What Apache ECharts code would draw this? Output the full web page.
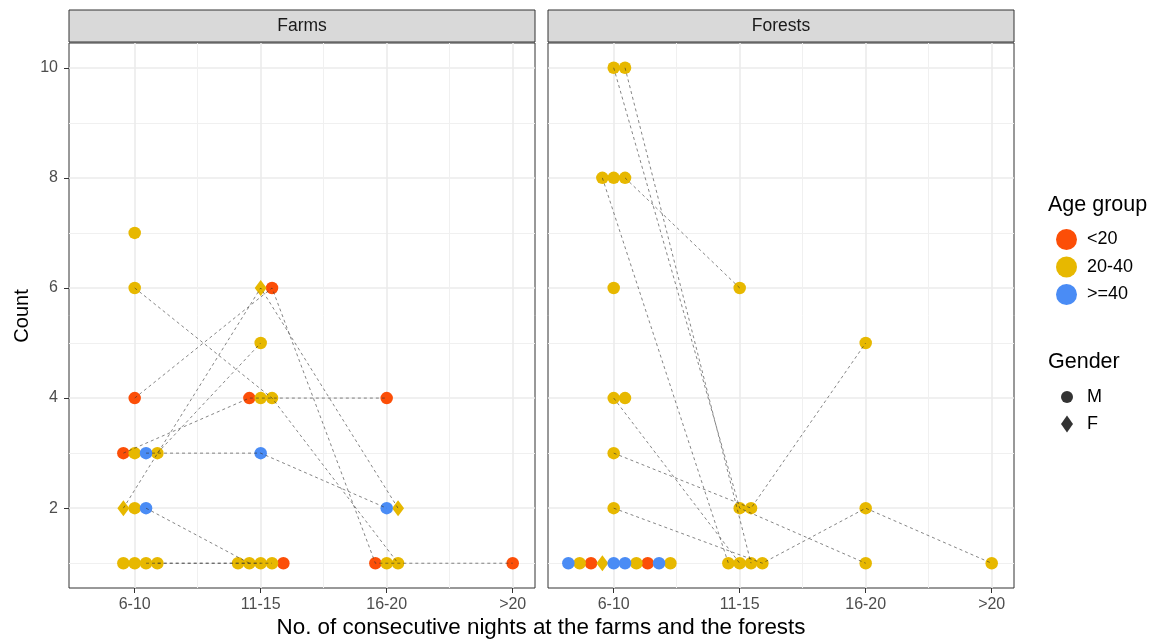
<!DOCTYPE html>
<html><head><meta charset="utf-8">
<script src="https://cdn.jsdelivr.net/npm/echarts@6/dist/echarts.min.js"></script>
<style>html,body{margin:0;padding:0;background:#fff}#c{width:1154px;height:640px}</style>
</head><body><div id="c"></div>
<script>
// ---------- data ----------
const categories = ['6-10', '11-15', '16-20', '>20'];
const yTicks = [2, 4, 6, 8, 10];
const yMinorTicks = [1, 3, 5, 7, 9];
const ageGroups = ['<20', '20-40', '>=40'];
const genders = ['M', 'F'];
const panels = ['Farms', 'Forests'];

// Farms points: category index, count, dodge slot, age group index, gender index
const farmsCategory = [0,0,0,0,0,0,0,0,0,0,0,0,0,0, 1,1,1,1,1,1,1,1,1,1,1,1, 2,2,2,2,2,2, 3];
const farmsCount    = [7,6,4,3,3,3,3,2,2,2,1,1,1,1, 6,6,5,4,4,4,3,1,1,1,1,1, 4,2,2,1,1,1, 1];
const farmsSlot     = [0,0,0,-1,0,1,2,-1,0,1,-1,0,1,2, 0,1,0,-1,0,1,0,-2,-1,0,1,2, 0,0,1,-1,0,1, 0];
const farmsAge      = [1,1,0,0,1,2,1,1,1,2,1,1,1,1, 1,0,1,0,1,1,2,1,1,1,1,0, 0,2,1,0,1,1, 0];
const farmsGender   = [0,0,0,0,0,0,0,1,0,0,0,0,0,0, 1,0,0,0,0,0,0,0,0,0,0,0, 0,0,1,0,0,0, 0];
const farmsPaths = [[1,19,31],[2,15,29,32],[3,17,26],[5,20,27],[6,16],[7,14,28],[9,22],[12,23],[13,24]];

// Forests points
const forestsCategory = [0,0,0,0,0,0,0,0,0,0, 0,0,0,0,0,0,0,0,0,0, 1,1,1,1,1,1,1, 2,2,2, 3];
const forestsCount    = [10,10,8,8,8,6,4,4,3,2, 1,1,1,1,1,1,1,1,1,1, 6,2,2,1,1,1,1, 5,2,1, 1];
const forestsSlot     = [0,1,-1,0,1,0,0,1,0,0, -4,-3,-2,-1,0,1,2,3,4,5, 0,0,1,-1,0,1,2, 0,0,0, 0];
const forestsAge      = [1,1,1,1,1,1,1,1,1,1, 2,1,0,1,2,2,1,0,2,1, 1,1,1,1,1,1,1, 1,1,1, 1];
const forestsGender   = [0,0,0,0,0,0,0,0,0,0, 0,0,0,1,0,0,0,0,0,0, 0,0,0,0,0,0,0, 0,0,0, 0];
const forestsPaths = [[0,21,29],[1,25],[2,23],[4,20],[6,24],[8,22,27],[9,26,28,30]];

// ---------- style / layout ----------
const ageColors = ['#FC4E07', '#E7B800', '#4A8CF5'];
const FONT = '"Liberation Sans", Arial, sans-serif';
const SLOT = 0.09;
const X_MIN = 0.4786, X_MAX = 4.177;
const Y_MIN = 0.55, Y_MAX = 10.45;
const GRID_TOP = 43, GRID_H = 545, GRID_W = 466;
const GRID_LEFT = [69, 548];

const panelData = [
  {cat: farmsCategory, cnt: farmsCount, slot: farmsSlot, age: farmsAge, gen: farmsGender, paths: farmsPaths},
  {cat: forestsCategory, cnt: forestsCount, slot: forestsSlot, age: forestsAge, gen: forestsGender, paths: forestsPaths}
];

const grids = [], xAxes = [], yAxes = [], series = [], graphics = [];
panels.forEach((name, p) => {
  grids.push({left: GRID_LEFT[p], top: GRID_TOP, width: GRID_W, height: GRID_H,
    show: true, borderColor: '#333', borderWidth: 1, backgroundColor: 'transparent',
    containLabel: false, outerBoundsMode: 'none'});
  // major x
  xAxes.push({type: 'value', gridIndex: p, min: X_MIN, max: X_MAX, position: 'bottom',
    axisLine: {show: false},
    axisTick: {show: true, length: 5, lineStyle: {color: '#333', width: 1}, customValues: [1, 2, 3, 4]},
    axisLabel: {show: true, customValues: [1, 2, 3, 4], formatter: v => categories[Math.round(v) - 1],
      color: '#4D4D4D', fontSize: 16, fontFamily: FONT, margin: 9},
    splitLine: {show: true, lineStyle: {color: '#EBEBEB', width: 1.6}}});
  // minor x
  xAxes.push({type: 'value', gridIndex: p, min: X_MIN, max: X_MAX, position: 'top',
    axisLine: {show: false}, axisTick: {show: false, customValues: [1.5, 2.5, 3.5]},
    axisLabel: {show: false},
    splitLine: {show: true, lineStyle: {color: '#F0F0F0', width: 1}}});
  // major y
  yAxes.push({type: 'value', gridIndex: p, min: Y_MIN, max: Y_MAX, position: 'left',
    axisLine: {show: false},
    axisTick: {show: p === 0, length: 5, lineStyle: {color: '#333', width: 1}, customValues: yTicks},
    axisLabel: {show: p === 0, customValues: yTicks, color: '#4D4D4D', fontSize: 16, fontFamily: FONT, margin: 11},
    splitLine: {show: true, lineStyle: {color: '#EBEBEB', width: 1.6}}});
  // minor y
  yAxes.push({type: 'value', gridIndex: p, min: Y_MIN, max: Y_MAX, position: 'right',
    axisLine: {show: false}, axisTick: {show: false, customValues: yMinorTicks},
    axisLabel: {show: false},
    splitLine: {show: true, lineStyle: {color: '#F0F0F0', width: 1}}});

  const d = panelData[p];
  const pos = i => [d.cat[i] + 1 + d.slot[i] * SLOT, d.cnt[i]];
  ageGroups.forEach((ag, a) => {
    const items = [];
    d.cat.forEach((c, i) => {
      if (d.age[i] !== a) return;
      const f = d.gen[i] === 1;
      items.push({value: pos(i), symbol: f ? 'diamond' : 'circle', symbolSize: f ? [12, 16] : 12.5});
    });
    series.push({type: 'scatter', name: ag, xAxisIndex: 2 * p, yAxisIndex: 2 * p, data: items,
      itemStyle: {color: ageColors[a], opacity: 1}, z: 2, silent: true, animation: false});
  });
  d.paths.forEach(path => {
    series.push({type: 'line', name: 'path', xAxisIndex: 2 * p, yAxisIndex: 2 * p,
      data: path.map(pos), symbol: 'none', z: 3, silent: true, animation: false,
      lineStyle: {color: '#333', width: 0.6, type: [3, 3]}});
  });

  // strip
  graphics.push({type: 'rect', shape: {x: GRID_LEFT[p], y: 10, width: GRID_W, height: 32},
    style: {fill: '#D9D9D9', stroke: '#333', lineWidth: 1}, z: 10});
  graphics.push({type: 'text', x: GRID_LEFT[p] + GRID_W / 2, y: 26.5,
    style: {text: name, font: '17.5px ' + FONT, fill: '#1A1A1A', align: 'center', verticalAlign: 'middle'}, z: 11});
});

// gender legend entries
genders.forEach(g => series.push({type: 'scatter', name: g, xAxisIndex: 0, yAxisIndex: 0, data: [],
  itemStyle: {color: '#000'}, silent: true}));

graphics.push({type: 'text', x: 22, y: 316, rotation: Math.PI / 2,
  style: {text: 'Count', font: '20px ' + FONT, fill: '#000', align: 'center', verticalAlign: 'middle'}});
graphics.push({type: 'text', x: 541, y: 628,
  style: {text: 'No. of consecutive nights at the farms and the forests', font: '22.4px ' + FONT, fill: '#000', align: 'center', verticalAlign: 'middle'}});
graphics.push({type: 'text', x: 1048, y: 205,
  style: {text: 'Age group', font: '21.5px ' + FONT, fill: '#000', align: 'left', verticalAlign: 'middle'}});
graphics.push({type: 'text', x: 1048, y: 362,
  style: {text: 'Gender', font: '21.5px ' + FONT, fill: '#000', align: 'left', verticalAlign: 'middle'}});

const chart = echarts.init(document.getElementById('c'), null, {renderer: 'canvas'});
chart.setOption({
  animation: false,
  backgroundColor: '#fff',
  grid: grids, xAxis: xAxes, yAxis: yAxes, series: series,
  legend: [
    {orient: 'vertical', left: 1051, top: 224, itemWidth: 21, itemHeight: 21, itemGap: 6.5, selectedMode: false,
      data: ageGroups.map(n => ({name: n, icon: 'circle'})),
      textStyle: {fontSize: 18, color: '#000', fontFamily: FONT, padding: [0, 0, 0, 5]}},
    {orient: 'vertical', left: 1056, top: 383, itemWidth: 12, itemHeight: 17, itemGap: 9, selectedMode: false,
      data: [{name: 'M', icon: 'circle'}, {name: 'F', icon: 'diamond'}],
      textStyle: {fontSize: 18, color: '#000', fontFamily: FONT, padding: [0, 0, 0, 9]}}
  ],
  graphic: graphics
});
</script></body></html>
